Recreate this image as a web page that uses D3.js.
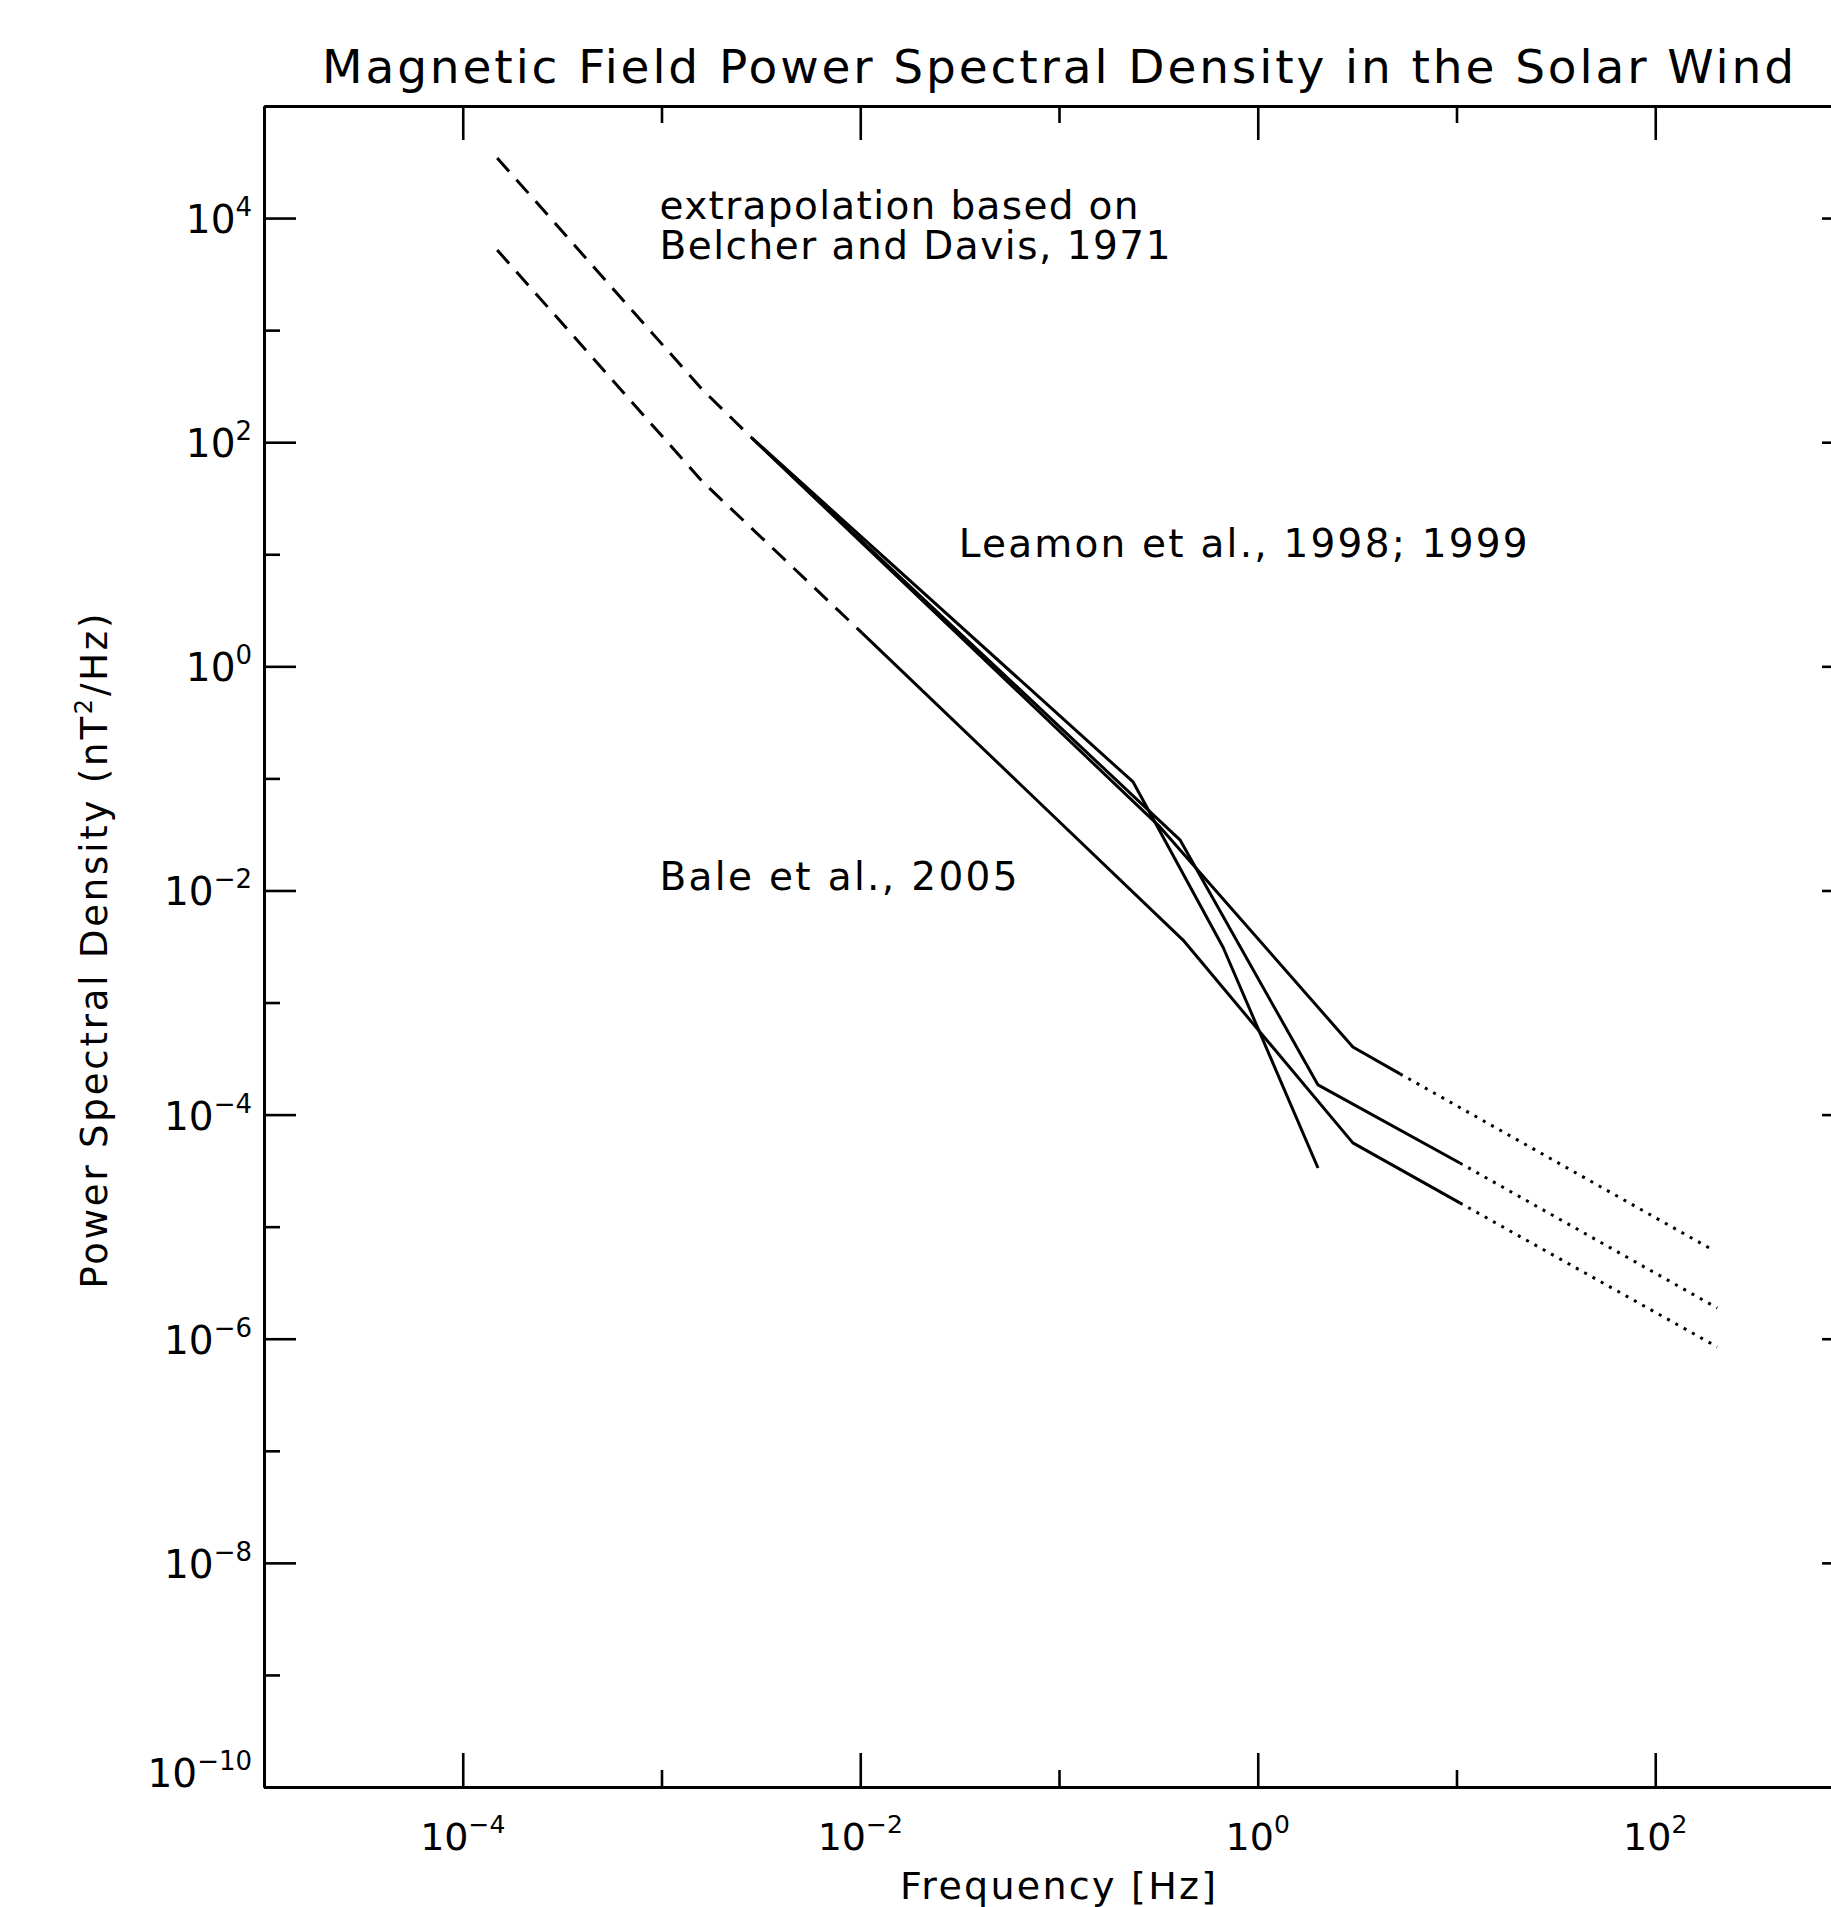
<!DOCTYPE html>
<html>
<head>
<meta charset="utf-8">
<script src="https://cdn.jsdelivr.net/npm/d3@7"></script>
<style>
  html, body { margin: 0; padding: 0; background: #fff; }
  svg { display: block; }
  text { font-family: "DejaVu Sans", sans-serif; fill: #000; }
  .axis .domain { stroke: #000; stroke-width: 3; }
  .axis .tick line { stroke: #000; stroke-width: 2.6; }
  .axis .tick text { display: none; }
</style>
</head>
<body>
<div id="chart"></div>
<script>
// extrapolation based on Belcher and Davis (dashed)
var belcherHighF = [1.49e-4, 1.6e-3, 2.85e-3];
var belcherHighP = [3.44e4, 296, 109];
var belcherLowF = [1.49e-4, 1.6e-3, 1.02e-2];
var belcherLowP = [5190, 44.8, 1.99];

// Leamon et al. 1998; 1999 (solid, then dotted)
var leamon1F = [2.85e-3, 0.236, 0.67, 2.01];
var leamon1P = [109, 0.0929, 3.1e-3, 3.34e-5];
var leamon2F = [2.85e-3, 0.406, 2.01, 10.4];
var leamon2P = [109, 0.0283, 1.84e-4, 3.70e-5];
var leamon2ExtF = [10.4, 205];
var leamon2ExtP = [3.70e-5, 1.88e-6];
var leamon3F = [2.85e-3, 0.322, 3.01, 5.20];
var leamon3P = [109, 0.0369, 4.01e-4, 2.31e-4];
var leamon3ExtF = [5.20, 195];
var leamon3ExtP = [2.31e-4, 6.19e-6];

// Bale et al. 2005
var baleF = [1.02e-2, 0.421, 3.01, 10.4];
var baleP = [1.99, 3.61e-3, 5.59e-5, 1.63e-5];
var baleExtF = [10.4, 205];
var baleExtP = [1.63e-5, 8.45e-7];

// ticks
var xMajor = [1e-4, 1e-2, 1, 1e2];
var xMinor = [1e-3, 1e-1, 1e1];
var xLabels = ['-4', '-2', '0', '2'];
var yMajor = [1e-10, 1e-8, 1e-6, 1e-4, 1e-2, 1, 1e2, 1e4];
var yMinor = [1e-9, 1e-7, 1e-5, 1e-3, 1e-1, 1e1, 1e3];
var yLabels = ['-10', '-8', '-6', '-4', '-2', '0', '2', '4'];

var annotations = [
  { text: 'extrapolation based on', f: 1e-3, p: 9.8e3, len: 479 },
  { text: 'Belcher and Davis, 1971', f: 1e-3, p: 4.3e3, len: 511 },
  { text: 'Leamon et al., 1998; 1999', f: 3.2e-2, p: 9.5, len: 569 },
  { text: 'Bale et al., 2005', f: 1e-3, p: 1.0e-2, len: 358 }
];

var W = 1831, H = 1907;
var plotLeft = 264, plotRight = 1854, plotTop = 106, plotBottom = 1787;

var svg = d3.select('#chart').append('svg')
  .attr('width', W)
  .attr('height', H);

var x = d3.scaleLog().domain([1e-5, 1e3]).range([plotLeft, plotRight]);
var y = d3.scaleLog().domain([1e-10, 1e5]).range([plotBottom, plotTop]);

function sup(s) { return s.replace('-', '\u2212'); }

// axes, ticks pointing inward
function drawAxis(axisFn, ticks, size, transform) {
  svg.append('g').attr('class', 'axis').attr('transform', transform)
    .call(axisFn.tickValues(ticks).tickSizeInner(-size).tickSizeOuter(0).tickFormat(''));
}
drawAxis(d3.axisBottom(x), xMajor, 34, 'translate(0,' + plotBottom + ')');
drawAxis(d3.axisBottom(x), xMinor, 17, 'translate(0,' + plotBottom + ')');
drawAxis(d3.axisTop(x), xMajor, 34, 'translate(0,' + plotTop + ')');
drawAxis(d3.axisTop(x), xMinor, 17, 'translate(0,' + plotTop + ')');
drawAxis(d3.axisLeft(y), yMajor, 32, 'translate(' + plotLeft + ',0)');
drawAxis(d3.axisLeft(y), yMinor, 16, 'translate(' + plotLeft + ',0)');
drawAxis(d3.axisRight(y), yMajor, 32, 'translate(' + plotRight + ',0)');
drawAxis(d3.axisRight(y), yMinor, 16, 'translate(' + plotRight + ',0)');

// tick labels
var xl = svg.append('g').selectAll('text').data(xMajor).enter().append('text')
  .attr('x', function (d) { return x(d); })
  .attr('y', 1850)
  .attr('text-anchor', 'middle')
  .style('font-size', '38px');
xl.append('tspan').text('10');
xl.append('tspan').attr('dy', -17).style('font-size', '25px')
  .text(function (d, i) { return sup(xLabels[i]); });

var yl = svg.append('g').selectAll('text').data(yMajor).enter().append('text')
  .attr('x', 252)
  .attr('y', function (d, i) { return i === 0 ? y(d) : y(d) + 15; })
  .attr('text-anchor', 'end')
  .style('font-size', '39px');
yl.append('tspan').text('10');
yl.append('tspan').attr('dy', -17).style('font-size', '26px')
  .text(function (d, i) { return sup(yLabels[i]); });

// titles
svg.append('text')
  .attr('x', (plotLeft + plotRight) / 2 - 1)
  .attr('y', 83)
  .attr('text-anchor', 'middle')
  .attr('textLength', 1472)
  .attr('lengthAdjust', 'spacing')
  .style('font-size', '47px')
  .text('Magnetic Field Power Spectral Density in the Solar Wind');

svg.append('text')
  .attr('x', (plotLeft + plotRight) / 2 - 1)
  .attr('y', 1899)
  .attr('text-anchor', 'middle')
  .attr('textLength', 316)
  .attr('lengthAdjust', 'spacing')
  .style('font-size', '38px')
  .text('Frequency [Hz]');

var yt = svg.append('text')
  .attr('transform', 'translate(107,951) rotate(-90)')
  .attr('text-anchor', 'middle')
  .attr('textLength', 675)
  .attr('lengthAdjust', 'spacing')
  .style('font-size', '37px');
yt.append('tspan').text('Power Spectral Density (nT');
yt.append('tspan').attr('dy', -15).style('font-size', '24px').text('2');
yt.append('tspan').attr('dy', 15).text('/Hz)');

// annotations
svg.append('g').selectAll('text').data(annotations).enter().append('text')
  .attr('x', function (d) { return x(d.f) - 2; })
  .attr('y', function (d) { return y(d.p); })
  .attr('textLength', function (d) { return d.len; })
  .attr('lengthAdjust', 'spacing')
  .style('font-size', '39px')
  .text(function (d) { return d.text; });

// spectra
var line = d3.line()
  .x(function (d) { return x(d[0]); })
  .y(function (d) { return y(d[1]); });

var curves = [
  { f: belcherHighF, p: belcherHighP, dash: '18,11' },
  { f: belcherLowF, p: belcherLowP, dash: '18,11' },
  { f: leamon1F, p: leamon1P, dash: null },
  { f: leamon2F, p: leamon2P, dash: null },
  { f: leamon3F, p: leamon3P, dash: null },
  { f: baleF, p: baleP, dash: null },
  { f: leamon2ExtF, p: leamon2ExtP, dash: '3,6.5' },
  { f: leamon3ExtF, p: leamon3ExtP, dash: '3,6.5' },
  { f: baleExtF, p: baleExtP, dash: '3,6.5' }
];

svg.append('g').selectAll('path').data(curves).enter().append('path')
  .attr('d', function (d) { return line(d3.zip(d.f, d.p)); })
  .attr('fill', 'none')
  .attr('stroke', '#000')
  .attr('stroke-width', 3)
  .attr('stroke-linejoin', 'round')
  .attr('stroke-dasharray', function (d) { return d.dash; });
</script>
</body>
</html>
